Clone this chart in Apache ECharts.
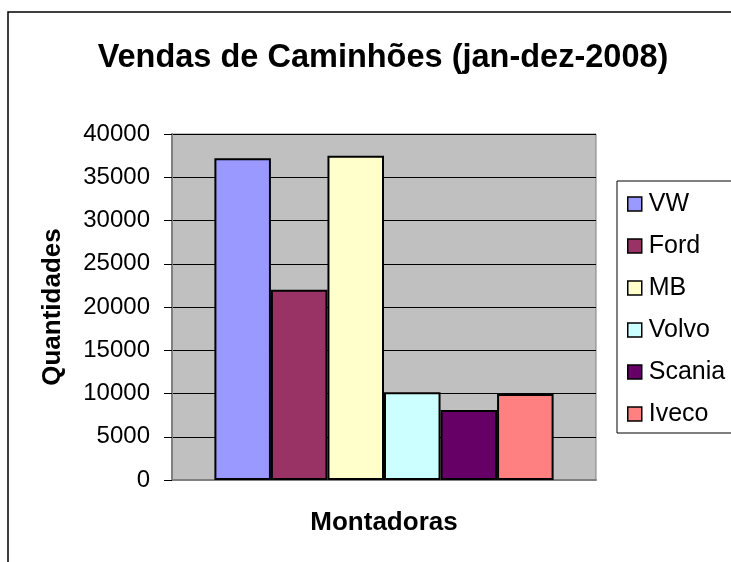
<!DOCTYPE html>
<html>
<head>
<meta charset="utf-8">
<script src="https://cdn.jsdelivr.net/npm/echarts@6/dist/echarts.min.js"></script>
<style>html,body{margin:0;padding:0;background:#fff}#c{width:731px;height:562px}</style>
</head>
<body>
<div id="c"></div>
<script>
var manufacturers = ['VW', 'Ford', 'MB', 'Volvo', 'Scania', 'Iveco'];
var sales = [37200, 22000, 37500, 10150, 8100, 9950];
var colors = ['#9999FF', '#993366', '#FFFFCC', '#CCFFFF', '#660066', '#FF8080'];
var yMin = 0, yMax = 40000, yStep = 5000;
var titleText = 'Vendas de Caminhões (jan-dez-2008)';
var xName = 'Montadoras', yName = 'Quantidades';

var FONT = '"Liberation Sans", Arial, sans-serif';
var chart = echarts.init(document.getElementById('c'), null, {renderer: 'canvas'});
var series = manufacturers.map(function (m, i) {
  return {
    name: m, type: 'bar', data: [sales[i]],
    barGap: '0%', barCategoryGap: '20%',
    itemStyle: {color: colors[i], borderColor: '#000', borderWidth: 2},
    emphasis: {disabled: true}
  };
});
chart.setOption({
  animation: false,
  textStyle: {fontFamily: FONT},
  graphic: [{
    type: 'rect', shape: {x: 8, y: 12, width: 740, height: 570},
    style: {fill: 'none', stroke: '#000', lineWidth: 1.5}, z: -10
  }],
  title: {
    text: titleText, left: 378, top: 37, textAlign: 'center',
    textStyle: {fontFamily: FONT, fontSize: 32.5, fontWeight: 'bold', color: '#000'}
  },
  grid: {left: 172, right: 135, top: 134, bottom: 82, show: true, backgroundColor: '#C0C0C0', borderColor: '#808080', borderWidth: 1},
  legend: {
    orient: 'vertical', left: 617, top: 181,
    backgroundColor: '#fff', borderColor: '#000', borderWidth: 1,
    padding: [9, 8, 5, 10],
    itemWidth: 14, itemHeight: 14, itemGap: 14,
    icon: 'rect',
    itemStyle: {borderColor: '#000', borderWidth: 1.5},
    textStyle: {fontFamily: FONT, fontSize: 25, color: '#000', lineHeight: 28, padding: [0, 0, 0, 2]},
    data: manufacturers
  },
  xAxis: {
    type: 'category', data: [''],
    name: xName, nameLocation: 'middle', nameGap: 30,
    nameTextStyle: {fontFamily: FONT, fontSize: 26, fontWeight: 'bold', color: '#000'},
    axisLine: {lineStyle: {color: '#808080', width: 2}},
    axisTick: {show: false}, axisLabel: {show: false}
  },
  yAxis: {
    type: 'value', min: yMin, max: yMax, interval: yStep,
    name: yName, nameLocation: 'middle', nameGap: 106, nameRotate: 90,
    nameTextStyle: {fontFamily: FONT, fontSize: 26, fontWeight: 'bold', color: '#000'},
    axisLine: {show: true, lineStyle: {color: '#808080', width: 2}},
    axisTick: {show: true, length: 8, lineStyle: {color: '#000'}},
    axisLabel: {fontFamily: FONT, fontSize: 24, color: '#000', margin: 22, formatter: function (v) { return String(v); }},
    splitLine: {lineStyle: {color: '#000', width: 1}}
  },
  series: series
});
</script>
</body>
</html>
